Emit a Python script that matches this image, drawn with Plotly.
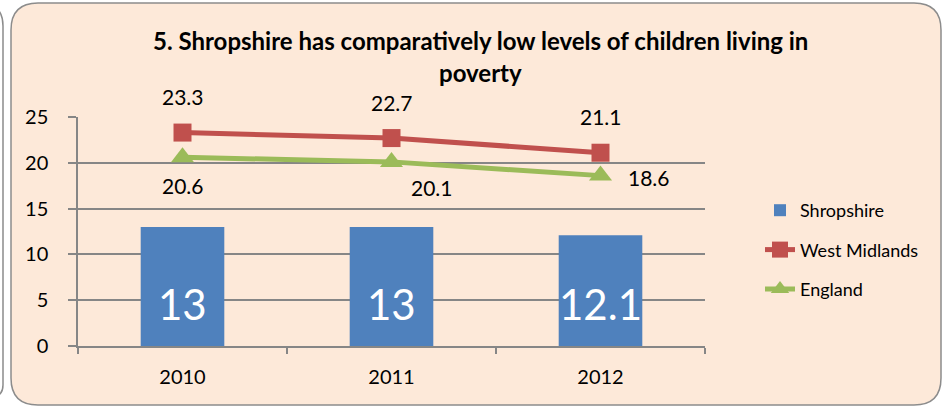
import plotly.graph_objects as go

# ---- data ----
years = ["2010", "2011", "2012"]
shropshire = [13, 13, 12.1]
west_midlands = [23.3, 22.7, 21.1]
england = [20.6, 20.1, 18.6]
y_ticks = [0, 5, 10, 15, 20, 25]

title_lines = ["5. Shropshire has comparatively low levels of children living in", "poverty"]

# ---- style ----
FONT = "Lato"
BLUE = "#4F81BD"
RED = "#C0504D"
GREEN = "#9BBB59"
PEACH = "#FDE9D9"
GRID = "#868686"
FRAME = "#8C8C8C"

W, H = 943, 407
ML, MR, MT, MB = 78, 238, 117, 61
PW, PH = W - ML - MR, H - MT - MB


def px(x):
    return (x - ML) / PW


def py(y):
    return (H - MB - y) / PH


fig = go.Figure()

fig.add_trace(go.Bar(
    x=years, y=shropshire, name="Shropshire", marker_color=BLUE,
    marker_line_width=0, legendgroup="a",
))
fig.add_trace(go.Scatter(
    x=years, y=west_midlands, name="West Midlands", mode="lines+markers",
    line=dict(color=RED, width=5), marker=dict(symbol="square", size=18, color=RED),
    legendgroup="b",
))
fig.add_trace(go.Scatter(
    x=years, y=england, name="England", mode="lines+markers",
    line=dict(color=GREEN, width=5), marker=dict(symbol="triangle-up", size=20, color=GREEN),
    legendgroup="c",
))

annotations = []

# value labels for the bars, large white text near the base
# (category axis: annotations are placed by category index)
for i, v in enumerate(shropshire):
    annotations.append(dict(
        x=i, y=0, xref="x", yref="y", text=f"{v:g}", showarrow=False,
        yanchor="middle", yshift=42, font=dict(family=FONT, size=42, color="white"),
    ))

# value labels for the lines
red_offsets = [(0, 36), (0, 36), (0, 36)]
green_offsets = [(0, -28), (40, -26), (48, -2)]
for i, (v, (dx, dy)) in enumerate(zip(west_midlands, red_offsets)):
    annotations.append(dict(
        x=i, y=v, xref="x", yref="y", text=f"{v:.1f}", showarrow=False,
        xshift=dx, yshift=dy, yanchor="middle",
        font=dict(family=FONT, size=21, color="black"),
    ))
for i, (v, (dx, dy)) in enumerate(zip(england, green_offsets)):
    annotations.append(dict(
        x=i, y=v, xref="x", yref="y", text=f"{v:.1f}", showarrow=False,
        xshift=dx, yshift=dy, yanchor="middle",
        font=dict(family=FONT, size=21, color="black"),
    ))

# two-line title, centred over the whole chart
for i, line in enumerate(title_lines):
    annotations.append(dict(
        x=px(480), y=py(40 + 32 * i), xref="paper", yref="paper",
        text=f"<b>{line}</b>", showarrow=False, xanchor="center", yanchor="middle",
        font=dict(family=FONT, size=24, color="black"),
    ))

# rounded chart frame and the edge of the neighbouring panel
L, R, T, B, r = 11, 941, 3, 405, 27
frame = (
    f"M {px(L)},{py(T + r)} Q {px(L)},{py(T)} {px(L + r)},{py(T)} "
    f"L {px(R - r)},{py(T)} Q {px(R)},{py(T)} {px(R)},{py(T + r)} "
    f"L {px(R)},{py(B - r)} Q {px(R)},{py(B)} {px(R - r)},{py(B)} "
    f"L {px(L + r)},{py(B)} Q {px(L)},{py(B)} {px(L)},{py(B - r)} Z"
)
neighbour = (
    f"M {px(-20)},{py(3)} Q {px(3)},{py(3)} {px(3)},{py(26)} "
    f"L {px(3)},{py(385)} Q {px(3)},{py(397)} {px(-9)},{py(397)}"
)
shapes = [
    dict(type="path", path=frame, xref="paper", yref="paper", layer="below",
         fillcolor=PEACH, line=dict(color=FRAME, width=1.5)),
    dict(type="path", path=neighbour, xref="paper", yref="paper", layer="below",
         line=dict(color=FRAME, width=1.5)),
]

fig.update_layout(
    width=W, height=H,
    margin=dict(l=ML, r=MR, t=MT, b=MB, pad=0, autoexpand=False),
    paper_bgcolor="white", plot_bgcolor="white",
    font=dict(family=FONT, size=20, color="black"),
    bargap=0.6,
    showlegend=True,
    legend=dict(
        x=px(760), y=py(250), xanchor="left", yanchor="middle",
        bgcolor="rgba(0,0,0,0)", font=dict(family=FONT, size=18, color="black"),
        tracegroupgap=13, traceorder="grouped",
    ),
    annotations=annotations,
    shapes=shapes,
    hovermode=False,
)

fig.update_xaxes(
    type="category", range=[-0.5, len(years) - 0.5], autorange=False,
    showgrid=False, showline=True, linecolor=GRID, linewidth=1.5,
    ticks="outside", tickson="boundaries", ticklen=6, tickcolor=GRID, tickwidth=1.5,
    ticklabelstandoff=12, tickfont=dict(family=FONT, size=20), automargin=False,
)
fig.update_yaxes(
    range=[0, 25], autorange=False, tickvals=y_ticks, showgrid=True, gridcolor=GRID, gridwidth=1.5,
    zeroline=False, showline=True, linecolor=GRID, linewidth=1.5,
    ticks="outside", ticklen=8, tickcolor=GRID, tickwidth=1.5,
    ticklabelstandoff=16, tickfont=dict(family=FONT, size=20), automargin=False,
)

fig.write_html("out.html")
